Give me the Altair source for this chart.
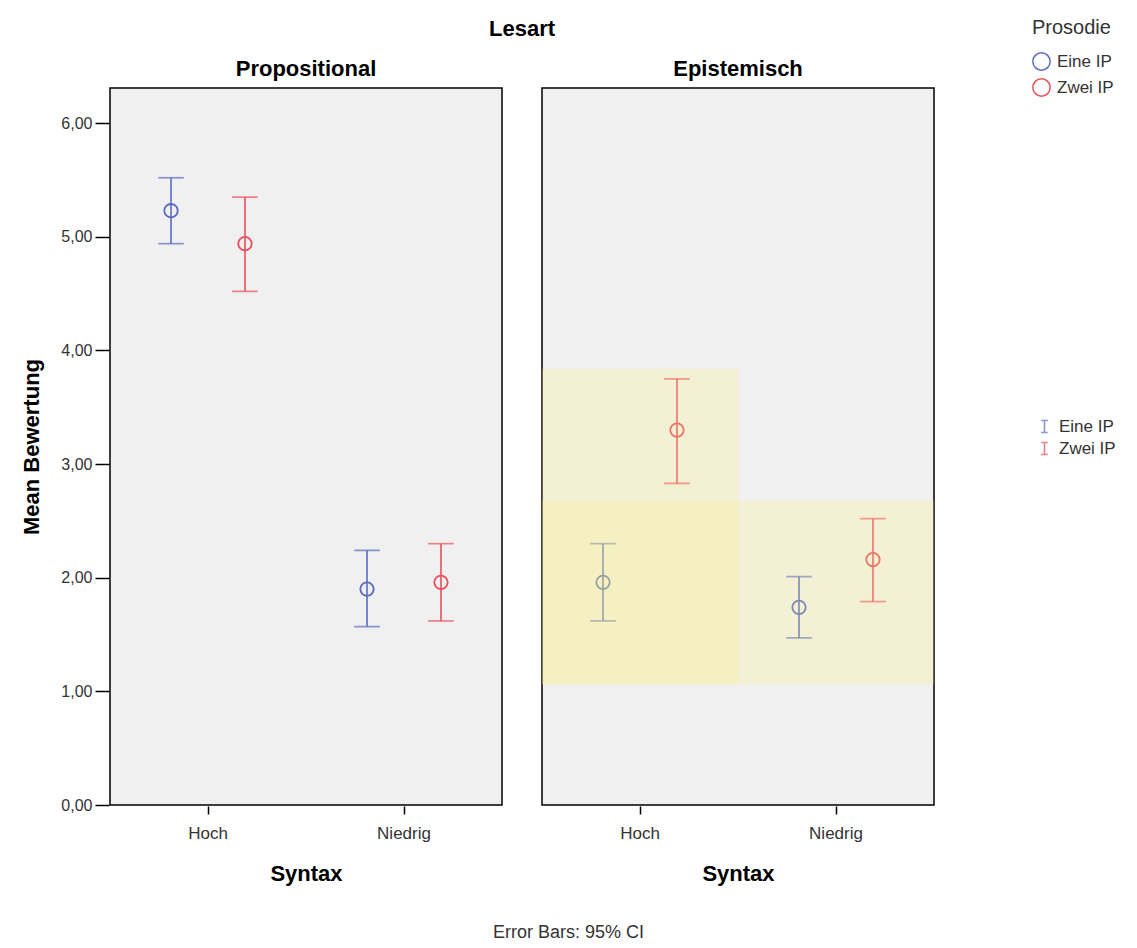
import altair as alt
import pandas as pd

FONT = "Liberation Sans"

# ---- data ----
lesart = ["Propositional"] * 4 + ["Epistemisch"] * 4
syntax = ["Hoch", "Hoch", "Niedrig", "Niedrig"] * 2
prosodie = ["Eine IP", "Zwei IP"] * 4
means = [5.23, 4.94, 1.90, 1.96, 1.96, 3.30, 1.74, 2.16]
ci_lo = [4.94, 4.52, 1.57, 1.62, 1.62, 2.83, 1.47, 1.79]
ci_hi = [5.52, 5.35, 2.24, 2.30, 2.30, 3.75, 2.01, 2.52]

# selection highlight areas (SPSS editor highlight) in the Epistemisch panel
hl_lesart = ["Epistemisch", "Epistemisch", "Epistemisch"]
hl_syntax = ["Hoch", "Hoch", "Niedrig"]
hl_lo = [1.06, 1.06, 1.06]
hl_hi = [3.84, 2.68, 2.68]

lesart_order = ["Propositional", "Epistemisch"]
syntax_order = ["Hoch", "Niedrig"]
pros_order = ["Eine IP", "Zwei IP"]
pros_colors = ["#5a6cc0", "#e8505c"]

pts = pd.DataFrame({
    "Lesart": lesart, "Syntax": syntax, "Prosodie": prosodie,
    "mean": means, "lo": ci_lo, "hi": ci_hi, "kind": "pt",
})
hls = pd.DataFrame({
    "Lesart": hl_lesart, "Syntax": hl_syntax,
    "y1": hl_lo, "y2": hl_hi, "kind": "hl",
})
df = pd.concat([pts, hls], ignore_index=True)

y_scale = alt.Scale(domain=[0, 6.31], nice=False, zero=False)
y_axis = alt.Axis(values=[0, 1, 2, 3, 4, 5, 6],
                  labelExpr="replace(format(datum.value, '.2f'), '.', ',')",
                  title="Mean Bewertung")
x_enc = alt.X("Syntax:N", sort=syntax_order, title="Syntax",
              scale=alt.Scale(paddingInner=0, paddingOuter=0))
xoff = alt.XOffset("Prosodie:N", sort=pros_order,
                   scale=alt.Scale(domain=pros_order, paddingInner=0, paddingOuter=0.325))

# colour scale for circles: data-driven domain (sorted); stroke scale for bars: explicit domain
color_scale = alt.Scale(range=pros_colors)
stroke_scale = alt.Scale(domain=pros_order, range=pros_colors)

circle_legend = alt.Legend(title="Prosodie", orient="none", legendX=922, legendY=-70,
                           symbolType="circle", symbolSize=300, symbolStrokeWidth=1.5,
                           labelFontSize=17, titleFontSize=20, titleFontWeight="normal",
                           titlePadding=14, rowPadding=1, labelOffset=6)
bar_legend = alt.Legend(title=None, orient="none", legendX=926, legendY=330,
                        symbolType="M-0.55,-1H0.55M0,-1V1M-0.55,1H0.55",
                        symbolSize=144, symbolStrokeWidth=1.6,
                        labelFontSize=17, rowPadding=3, labelOffset=6)

stroke_enc = alt.Stroke("ProsodieBar:N", sort=pros_order, scale=stroke_scale, legend=bar_legend)

base = alt.Chart().transform_filter("datum.kind == 'pt'").transform_calculate(
    ProsodieBar="datum.Prosodie"
)

rule = base.mark_rule(strokeWidth=1.6).encode(
    x=x_enc, xOffset=xoff,
    y=alt.Y("lo:Q", scale=y_scale, axis=y_axis),
    y2="hi:Q",
    stroke=stroke_enc,
)

cap_lo = base.mark_tick(size=24, thickness=0.1, filled=False, strokeWidth=1.6).encode(
    x=x_enc, xOffset=xoff,
    y=alt.Y("lo:Q", scale=y_scale, axis=y_axis),
    stroke=stroke_enc,
)
cap_hi = base.mark_tick(size=24, thickness=0.1, filled=False, strokeWidth=1.6).encode(
    x=x_enc, xOffset=xoff,
    y=alt.Y("hi:Q", scale=y_scale, axis=y_axis),
    stroke=stroke_enc,
)

points = base.mark_point(
    shape="circle", filled=False, size=180, strokeWidth=1.8, opacity=1
).encode(
    x=x_enc, xOffset=xoff,
    y=alt.Y("mean:Q", scale=y_scale, axis=y_axis),
    color=alt.Color("Prosodie:N", sort=pros_order, scale=color_scale, legend=circle_legend),
)

highlight = alt.Chart().transform_filter("datum.kind == 'hl'").mark_rect(
    color="#fff27a", opacity=0.22
).encode(
    x=x_enc,
    y=alt.Y("y1:Q", scale=y_scale, axis=y_axis),
    y2="y2:Q",
)

layered = alt.layer(points, rule, cap_lo, cap_hi, highlight).properties(width=392, height=717)

chart = layered.facet(
    data=df,
    column=alt.Column("Lesart:N", sort=lesart_order, title="Lesart",
                      header=alt.Header(labelFontSize=22, labelFontWeight="bold", labelFont=FONT,
                                        labelColor="black", labelPadding=6,
                                        titleFontSize=22, titleFontWeight="bold", titleFont=FONT,
                                        titleColor="black", titlePadding=7)),
    spacing=38,
).properties(
    title=alt.TitleParams("Error Bars: 95% CI", orient="bottom", fontSize=18, fontWeight="normal",
                          font=FONT, color="#333", anchor="middle", offset=40),
    padding={"left": 12, "top": 10, "right": 5, "bottom": 5},
).configure_view(
    stroke="black", strokeWidth=1.5, fill="#f0f0f0"
).configure_axis(
    labelFont=FONT, titleFont=FONT, grid=False, domain=False,
    tickColor="black", labelColor="#333", titleColor="black",
).configure_axisY(
    tickSize=14, tickWidth=1.5, labelFontSize=16, titleFontSize=22, titleFontWeight="bold",
    titlePadding=17, labelPadding=3,
).configure_axisX(
    tickSize=8, tickWidth=1.5, labelFontSize=17, titleFontSize=22, titleFontWeight="bold",
    titlePadding=22, labelAngle=0, labelPadding=11,
).configure_legend(
    labelFont=FONT, titleFont=FONT, labelColor="#333", titleColor="#333",
)

chart.save("out.html", embed_options={"renderer": "svg", "actions": False})
